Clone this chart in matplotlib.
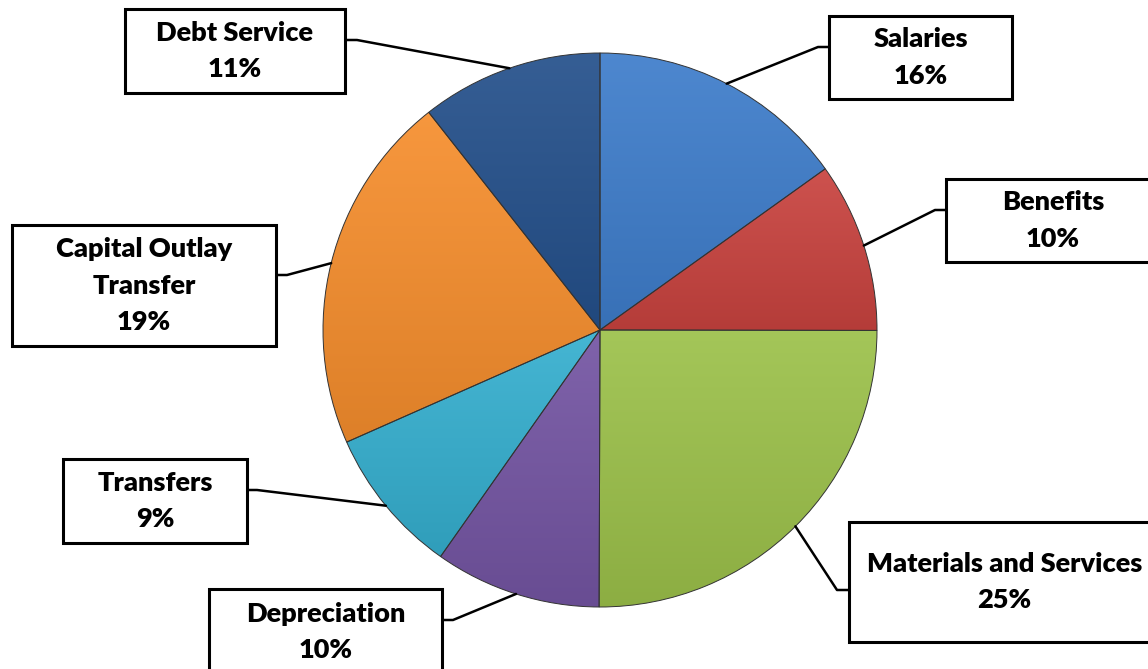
import numpy as np
import matplotlib.pyplot as plt
from matplotlib.patches import Rectangle
from matplotlib.colors import to_rgb

# slices, clockwise from 12 o'clock
categories = ['Salaries', 'Benefits', 'Materials and Services', 'Depreciation',
              'Transfers', 'Capital Outlay\nTransfer', 'Debt Service']
shares = [15.1, 9.9, 25.0, 9.7, 8.6, 21.0, 10.6]   # slice sizes as drawn
pct_labels = ['16%', '10%', '25%', '10%', '9%', '19%', '11%']
colors = ['#3E7DCB', '#C9433F', '#9CC14A', '#7455A3', '#35AFCF', '#F68E2D', '#24508B']

# label boxes (left, top, right, bottom) in pixels, leader anchor (x, y, elbow x)
boxes = [(829, 16, 1012, 99), (946, 179, 1160, 262), (849, 522, 1160, 642),
         (209, 589, 442, 675), (63, 459, 247, 543), (12, 225, 276, 346),
         (125, 9, 345, 93)]
anchors = [(829, 47, 818), (946, 210, 935), (849, 590, 837), (442, 620, 453),
           (247, 490, 257), (276, 275, 287), (345, 40, 357)]

W, H = 1148, 669
def fy(y):
    return H - y

fig = plt.figure(figsize=(11.48, 6.69), dpi=100)
ax = fig.add_axes([0, 0, 1, 1])

cx, cy, r = 600, fy(330), 277
wedges, _ = ax.pie(shares, colors=colors, startangle=90, counterclock=False,
                   center=(cx, cy), radius=r, frame=True,
                   wedgeprops=dict(linewidth=0.7, edgecolor='#333333'))

# vertical gradient inside each wedge
t = np.linspace(0, 1, 256)[:, None]
for w, c in zip(wedges, colors):
    base = np.array(to_rgb(c))
    top = base + (1 - base) * 0.08
    bot = base * 0.9
    img = (top * (1 - t) + bot * t)[:, None, :]
    ext = w.get_path().get_extents()
    im = ax.imshow(img, extent=(ext.x0, ext.x1, ext.y0, ext.y1), origin='upper',
                   aspect='auto', interpolation='bilinear', zorder=0.5)
    im.set_clip_path(w)
    w.set_facecolor('none')
    w.set_zorder(1)

# leader lines to the middle of each slice
for w, (bx, by, ex) in zip(wedges, anchors):
    ang = np.deg2rad((w.theta1 + w.theta2) / 2)
    px, py = cx + r * np.cos(ang), cy + r * np.sin(ang)
    ax.plot([bx, ex, px], [fy(by), fy(by), py], color='black', lw=1.8,
            zorder=3, solid_capstyle='round')

for (l, tp, rt, b), name, pct in zip(boxes, categories, pct_labels):
    ax.add_patch(Rectangle((l, fy(b)), rt - l, b - tp, facecolor='white',
                           edgecolor='black', lw=2.2, zorder=4))
    ax.text((l + rt) / 2, fy((tp + b) / 2), name + '\n' + pct, ha='center',
            va='center', multialignment='center', fontsize=19.5,
            fontweight='heavy', family='Lato', linespacing=1.62, zorder=5)

ax.set_xlim(0, W)
ax.set_ylim(0, H)
ax.axis('off')
fig.savefig('out.png', dpi=100)
